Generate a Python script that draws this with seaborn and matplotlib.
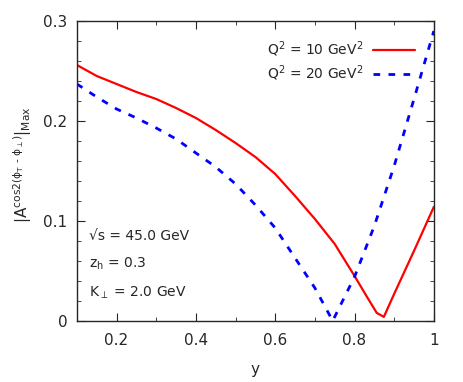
import numpy as np
import matplotlib
matplotlib.use("Agg")
import matplotlib.pyplot as plt
from matplotlib.ticker import MultipleLocator
import seaborn as sns

# curve values
y_q10 = [0.1, 0.15, 0.2, 0.25, 0.3, 0.35, 0.4, 0.45, 0.5, 0.55, 0.6, 0.65,
         0.7, 0.75, 0.8, 0.83, 0.856, 0.874, 0.9, 0.95, 1.0]
a_q10 = [0.256, 0.245, 0.237, 0.229, 0.222, 0.213, 0.203, 0.191, 0.178, 0.164,
         0.147, 0.125, 0.102, 0.077, 0.045, 0.025, 0.008, 0.004, 0.027, 0.070, 0.114]

y_q20 = [0.1, 0.15, 0.2, 0.25, 0.3, 0.35, 0.4, 0.45, 0.5, 0.55, 0.6, 0.65,
         0.7, 0.745, 0.8, 0.85, 0.9, 0.95, 1.0]
a_q20 = [0.237, 0.224, 0.212, 0.203, 0.193, 0.182, 0.168, 0.154, 0.137, 0.116,
         0.093, 0.063, 0.033, 0.0, 0.044, 0.095, 0.155, 0.222, 0.29]

labels = [r'Q$^2$ = 10 GeV$^2$', r'Q$^2$ = 20 GeV$^2$']
notes = ['√s = 45.0 GeV', r'z$_\mathrm{h}$ = 0.3', r'K$_\perp$ = 2.0 GeV']
note_y = [0.085, 0.057, 0.028]

sns.set_style('ticks')
plt.rcParams['font.family'] = ['DejaVu Sans']
plt.rcParams['mathtext.default'] = 'regular'

fig = plt.figure(figsize=(4.63, 3.82), dpi=100)
ax = fig.add_axes([0.166, 0.160, 0.771, 0.785])

sns.lineplot(x=y_q10, y=a_q10, ax=ax, color='red', linewidth=1.6, label=labels[0])
sns.lineplot(x=y_q20, y=a_q20, ax=ax, color='blue', linewidth=2.0, label=labels[1])
ax.lines[1].set_dashes((2.4, 3.0))

ax.set_xlim(0.1, 1.0)
ax.set_ylim(0, 0.3)
ax.xaxis.set_minor_locator(MultipleLocator(0.1))
ax.yaxis.set_minor_locator(MultipleLocator(0.02))
ax.set_xticks([0.2, 0.4, 0.6, 0.8, 1.0])
ax.set_xticklabels(['0.2', '0.4', '0.6', '0.8', '1'])
ax.set_yticks([0, 0.1, 0.2, 0.3])
ax.set_yticklabels(['0', '0.1', '0.2', '0.3'])
ax.tick_params(which='both', direction='in', top=True, right=True, labelsize=11)
ax.tick_params(axis='x', pad=9)
ax.tick_params(axis='y', pad=7)
ax.tick_params(which='major', length=6)
ax.tick_params(which='minor', length=3)
for s in ax.spines.values():
    s.set_linewidth(1.0)

ax.set_xlabel('y', fontsize=11, labelpad=10)
ax.set_ylabel(r'$|A^{cos2(\phi_T\ \text{-}\ \phi_\perp)}|_{Max}$', fontsize=11)
ax.yaxis.set_label_coords(-0.12, 0.52)

for t, yy in zip(notes, note_y):
    ax.text(0.13, yy, t, fontsize=10, va='center')

ax.legend(loc='upper right', frameon=False, markerfirst=False, fontsize=10,
          handlelength=3.0, handletextpad=0.7, borderaxespad=0.95, labelspacing=0.3)

fig.savefig('out.png', dpi=100)
